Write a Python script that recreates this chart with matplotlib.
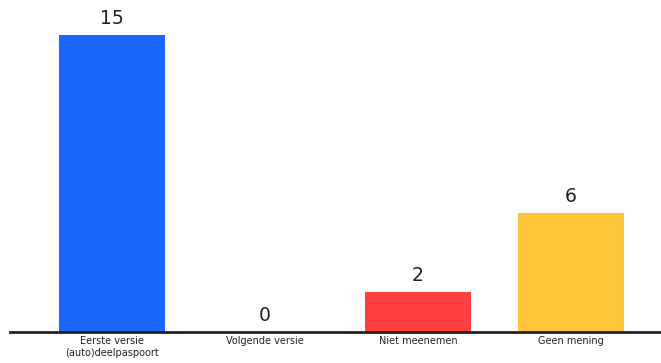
import matplotlib
matplotlib.use("Agg")
import matplotlib.pyplot as plt

categories = ["Eerste versie\n(auto)deelpaspoort", "Volgende versie", "Niet meenemen", "Geen mening"]
values = [15, 0, 2, 6]
colors = ["#1B67FD", "#2E6BE6", "#FE4040", "#FEC43A"]

fig = plt.figure(figsize=(6.61, 3.63), dpi=100)
ax = fig.add_axes([10 / 661, 31 / 363, 651 / 661, 332 / 363])

x = list(range(len(categories)))
bars = ax.bar(x, values, width=0.69, color=colors)

for xi, v in zip(x, values):
    ax.text(xi, v + 0.35, str(v), ha="center", va="bottom", fontsize=13.5, color="#222222")

ax.set_xlim(-0.667, 3.588)
ax.set_ylim(0, 16.77)
ax.set_xticks(x)
ax.set_xticklabels(categories, fontsize=7, color="#222222", linespacing=1.25)
ax.tick_params(axis="x", length=0, pad=3)
ax.set_yticks([])
for side in ["top", "right", "left"]:
    ax.spines[side].set_visible(False)
ax.spines["bottom"].set_linewidth(2)
ax.spines["bottom"].set_color("#222222")

fig.savefig("out.png", dpi=100)
